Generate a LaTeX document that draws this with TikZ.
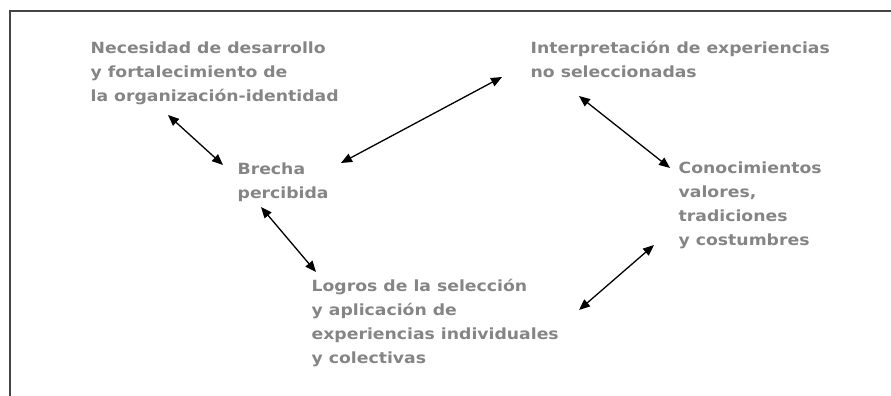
\documentclass[tikz,border=0pt]{standalone}
\usepackage{fontspec}
\setmainfont{DejaVu Sans}[FakeStretch=1.12]
\usepackage{xcolor}
\usetikzlibrary{arrows.meta, calc}
\definecolor{txtgray}{HTML}{858585}
\definecolor{framegray}{HTML}{454545}

\begin{document}
\begin{tikzpicture}[
        x=1pt, y=-1pt,
        font=\bfseries\fontsize{15.4}{24}\selectfont,
        >={Triangle[length=11pt, width=9pt]},
        line width=1.3pt,
        txt/.style={
            text=txtgray,
            anchor=north west,
            align=left,
            inner sep=0pt
        },
        link/.style={<->, black}
    ]

        \useasboundingbox (0,0) rectangle (891,396);

        % marco
        \draw[framegray, line width=2pt] (10,396) -- (10,11) -- (891,11);

        \node[txt] (necesidad) at (90,41) {Necesidad de desarrollo\\y fortalecimiento de\\la organización-identidad};
        \node[txt] (interpret) at (530,41) {Interpretación de experiencias\\no seleccionadas};
        \node[txt] (brecha) at (237,162) {Brecha\\percibida};
        \node[txt] (conoc) at (678,161) {Conocimientos\\valores,\\tradiciones\\y costumbres};
        \node[txt] (logros) at (311,279) {Logros de la selección\\y aplicación de\\experiencias individuales\\y colectivas};

        % extremos de las flechas
        \coordinate (necB) at (168,115);
        \coordinate (breN) at (223,165);
        \coordinate (breE) at (341,163);
        \coordinate (intW) at (502,77);
        \coordinate (intS) at (579,96);
        \coordinate (conN) at (670,168);
        \coordinate (breS) at (261,207);
        \coordinate (logN) at (316,272);
        \coordinate (logE) at (579,310);
        \coordinate (conS) at (654,245);

        \draw[link] (necB) -- (breN);
        \draw[link] (breE) -- (intW);
        \draw[link] (intS) -- (conN);
        \draw[link] (breS) -- (logN);
        \draw[link] (logE) -- (conS);

    \end{tikzpicture}
\end{document}
